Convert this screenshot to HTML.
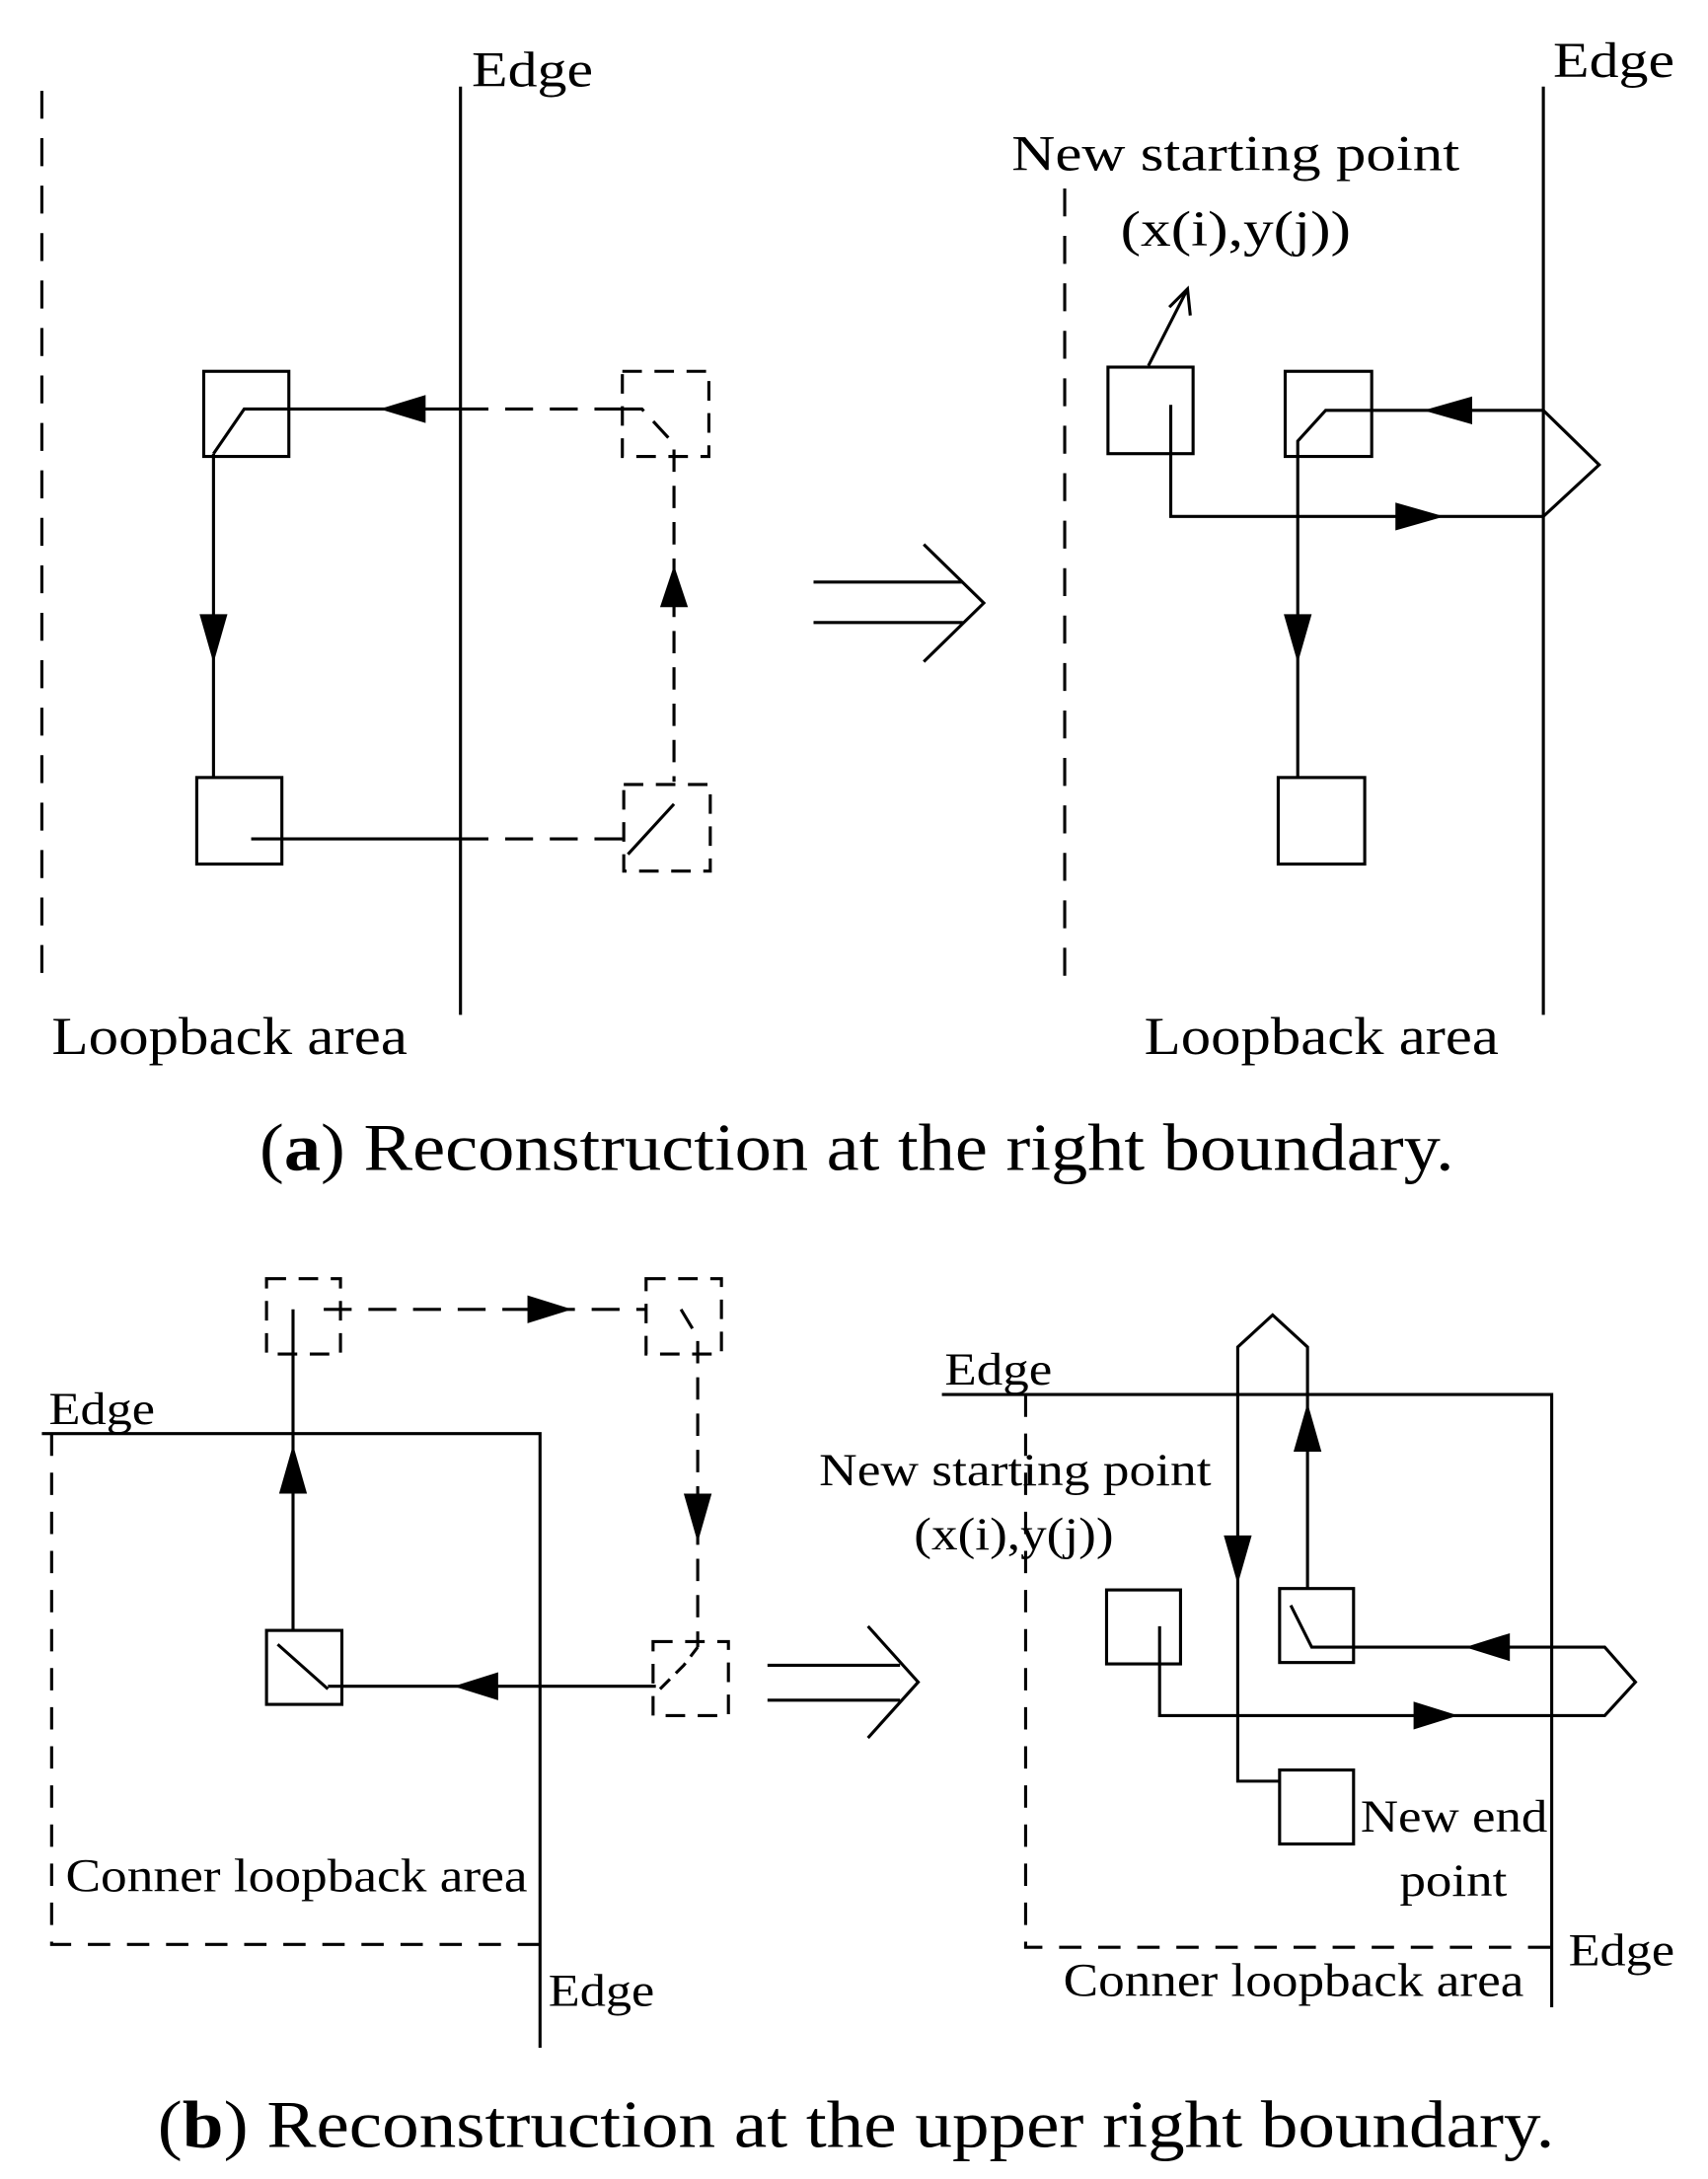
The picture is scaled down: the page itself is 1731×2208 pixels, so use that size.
<!DOCTYPE html>
<html><head><meta charset="utf-8"><style>
html,body{margin:0;padding:0;background:#fff}
svg{display:block}
text{font-family:"Liberation Serif",serif;fill:#000}
</style></head><body>
<svg width="1731" height="2208" viewBox="0 0 1224 1561" preserveAspectRatio="none" xmlns="http://www.w3.org/2000/svg">
<g fill="none" stroke="#000" stroke-width="2.2">
<!-- (a) left -->
<line x1="30" y1="65" x2="30" y2="705" stroke-dasharray="20,14"/>
<line x1="330" y1="62" x2="330" y2="727"/>
<rect x="146" y="266" width="61" height="61"/>
<polyline points="153,325 175,293 330,293"/>
<line x1="330" y1="293" x2="446" y2="293" stroke-dasharray="20,12"/>
<rect x="446" y="266" width="62" height="61" stroke-dasharray="14,9"/>
<polyline points="446,293 460,293 483,318 483,560" stroke-dasharray="16,10"/>
<line x1="153" y1="325" x2="153" y2="557"/>
<rect x="141" y="557" width="61" height="62"/>
<line x1="180" y1="601" x2="330" y2="601"/>
<line x1="330" y1="601" x2="447" y2="601" stroke-dasharray="20,12"/>
<rect x="447" y="562" width="62" height="62" stroke-dasharray="14,9"/>
<line x1="450" y1="612" x2="483" y2="576"/>
<line x1="583" y1="417" x2="690" y2="417"/><line x1="583" y1="446" x2="690" y2="446"/>
<polyline points="662,390 705,432 662,474"/>
<!-- (a) right -->
<line x1="763" y1="135" x2="763" y2="705" stroke-dasharray="20,14"/>
<line x1="1106" y1="62" x2="1106" y2="727"/>
<line x1="823" y1="262" x2="851" y2="207"/>
<polyline points="838,220 851,207 853,226"/>
<rect x="794" y="263" width="61" height="62"/>
<polyline points="839,290 839,370 1106,370 1146,333 1106,294 950,294 930,316 930,557"/>
<rect x="921" y="266" width="62" height="61"/>
<rect x="916" y="557" width="62" height="62"/>
<!-- (b) left -->
<rect x="191" y="916" width="53" height="54" stroke-dasharray="14,9"/>
<line x1="232" y1="938" x2="463" y2="938" stroke-dasharray="20,12"/>
<rect x="463" y="916" width="54" height="54" stroke-dasharray="14,9"/>
<polyline points="488,938 500,958 500,1180" stroke-dasharray="16,10"/>
<polyline points="30,1027 387,1027 387,1467"/>
<polyline points="37,1027 37,1393 387,1393" stroke-dasharray="16,12"/>
<rect x="191" y="1168" width="54" height="53"/>
<line x1="210" y1="938" x2="210" y2="1168"/>
<line x1="199" y1="1178" x2="235" y2="1210"/>
<line x1="235" y1="1208" x2="470" y2="1208"/>
<rect x="468" y="1176" width="54" height="53" stroke-dasharray="14,9"/>
<polyline points="473,1210 490,1193 500,1180" stroke-dasharray="10,6"/>
<line x1="550" y1="1193" x2="645" y2="1193"/><line x1="550" y1="1218" x2="645" y2="1218"/>
<polyline points="622,1165 658,1205 622,1245"/>
<!-- (b) right -->
<polyline points="675,999 1112,999 1112,1438"/>
<polyline points="735,999 735,1395 1112,1395" stroke-dasharray="16,12"/>
<rect x="793" y="1139" width="53" height="53"/>
<polyline points="831,1165 831,1229 1150,1229 1172,1205 1150,1180 940,1180 925,1150"/>
<rect x="917" y="1138" width="53" height="53"/>
<polyline points="937,1138 937,965 912,942 887,965 887,1276 917,1276"/>
<rect x="917" y="1268" width="53" height="53"/>
</g>
<g fill="#000">
<polygon points="272,293 305,283 305,303"/>
<polygon points="483,405 473,435 493,435"/>
<polygon points="153,475 143,440 163,440"/>
<polygon points="1035,370 1000,360 1000,380"/>
<polygon points="1020,294 1055,284 1055,304"/>
<polygon points="930,475 920,440 940,440"/>
<polygon points="410,938 378,928 378,948"/>
<polygon points="500,1105 490,1070 510,1070"/>
<polygon points="210,1035 200,1070 220,1070"/>
<polygon points="325,1208 357,1198 357,1218"/>
<polygon points="1045,1229 1013,1219 1013,1239"/>
<polygon points="1050,1180 1082,1170 1082,1190"/>
<polygon points="937,1005 927,1040 947,1040"/>
<polygon points="887,1135 877,1100 897,1100"/>
</g>
<g font-size="36" lengthAdjust="spacingAndGlyphs">
<text x="338" y="62" textLength="87" lengthAdjust="spacingAndGlyphs">Edge</text>
<text x="1113" y="55" textLength="87" lengthAdjust="spacingAndGlyphs">Edge</text>
<text x="37" y="755" font-size="38" textLength="255" lengthAdjust="spacingAndGlyphs">Loopback area</text>
<text x="820" y="755" font-size="38" textLength="254" lengthAdjust="spacingAndGlyphs">Loopback area</text>
<text x="725" y="122" textLength="321" lengthAdjust="spacingAndGlyphs">New starting point</text>
<text x="803" y="176" textLength="165" lengthAdjust="spacingAndGlyphs">(x(i),y(j))</text>
<text x="35" y="1020" font-size="33" textLength="76" lengthAdjust="spacingAndGlyphs">Edge</text>
<text x="393" y="1437" font-size="33" textLength="76" lengthAdjust="spacingAndGlyphs">Edge</text>
<text x="47" y="1355" font-size="34" textLength="331" lengthAdjust="spacingAndGlyphs">Conner loopback area</text>
<text x="677" y="992" font-size="33" textLength="77" lengthAdjust="spacingAndGlyphs">Edge</text>
<text x="1124" y="1408" font-size="33" textLength="76" lengthAdjust="spacingAndGlyphs">Edge</text>
<text x="587" y="1064" font-size="33" textLength="281" lengthAdjust="spacingAndGlyphs">New starting point</text>
<text x="655" y="1110" font-size="33" textLength="143" lengthAdjust="spacingAndGlyphs">(x(i),y(j))</text>
<text x="975" y="1312" font-size="33" textLength="134" lengthAdjust="spacingAndGlyphs">New end</text>
<text x="1003" y="1358" font-size="33" textLength="77" lengthAdjust="spacingAndGlyphs">point</text>
<text x="762" y="1430" font-size="34" textLength="330" lengthAdjust="spacingAndGlyphs">Conner loopback area</text>
</g>
<text x="186" y="838" font-size="48" textLength="856" lengthAdjust="spacingAndGlyphs">(<tspan font-weight="bold">a</tspan>) Reconstruction at the right boundary.</text>
<text x="113" y="1538" font-size="48" textLength="1001" lengthAdjust="spacingAndGlyphs">(<tspan font-weight="bold">b</tspan>) Reconstruction at the upper right boundary.</text>
</svg>
</body></html>
